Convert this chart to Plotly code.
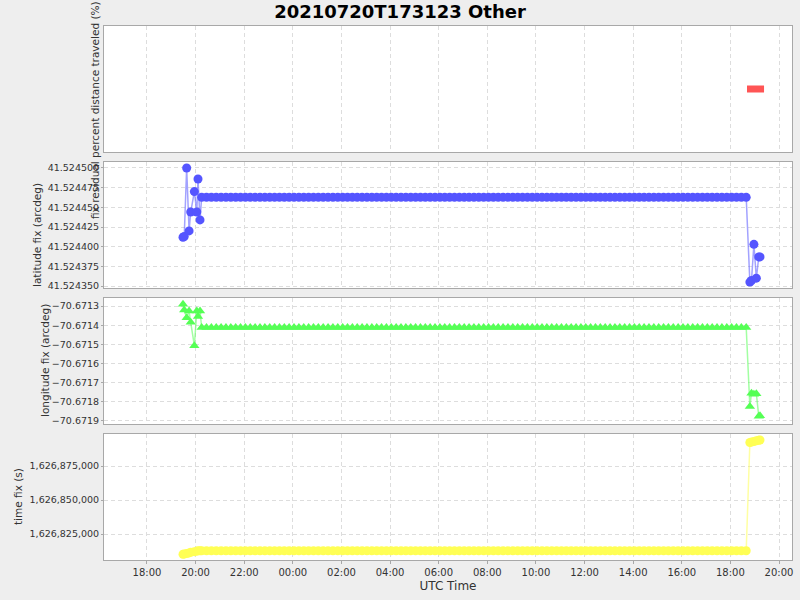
import pandas as pd
import plotly.graph_objects as go

# ---------------- data ----------------
early_times = ["2021-07-20 19:29", "2021-07-20 19:32", "2021-07-20 19:38", "2021-07-20 19:44",
               "2021-07-20 19:48", "2021-07-20 19:57", "2021-07-20 20:03", "2021-07-20 20:06",
               "2021-07-20 20:11"]
early_lat = [41.524412, 41.524413, 41.524500, 41.524420, 41.524444, 41.524470, 41.524444,
             41.524486, 41.524434]
early_lon = [-70.671291, -70.671321, -70.671361, -70.671326, -70.671385, -70.671507,
             -70.671326, -70.671355, -70.671326]
early_tfix = [1626810100, 1626810300, 1626810700, 1626811100, 1626811500, 1626812000,
              1626812400, 1626812600, 1626812700]

steady_times = list(pd.date_range("2021-07-20 20:15", "2021-07-21 18:40", freq="12min"))
steady_lat_value = 41.5244627
steady_lon_value = -70.671412
steady_tfix_value = 1626812720

late_times = ["2021-07-21 18:48", "2021-07-21 18:52", "2021-07-21 18:58", "2021-07-21 19:04",
              "2021-07-21 19:10", "2021-07-21 19:13"]
late_lat = [41.524355, 41.524357, 41.524403, 41.524360, 41.524387, 41.524387]
late_lon = [-70.671824, -70.671755, -70.671760, -70.671758, -70.671876, -70.671873]
late_tfix = [1626892300, 1626892600, 1626893000, 1626893500, 1626893900, 1626894100]

dist_times = ["2021-07-21 18:41", "2021-07-21 19:23"]
dist_values = [0.5, 0.5]

lat_ticks = [41.524350, 41.524375, 41.524400, 41.524425, 41.524450, 41.524475, 41.524500]
lon_ticks = [-70.6719, -70.6718, -70.6717, -70.6716, -70.6715, -70.6714, -70.6713]
tfix_ticks = [1626825000, 1626850000, 1626875000]

title_text = "20210720T173123 Other"
# -------------------------------------------------------------

times = (list(pd.to_datetime(early_times)) + steady_times + list(pd.to_datetime(late_times)))
n_steady = len(steady_times)
lat = early_lat + [steady_lat_value] * n_steady + late_lat
lon = early_lon + [steady_lon_value] * n_steady + late_lon
tfix = early_tfix + [steady_tfix_value] * n_steady + late_tfix

FONT = "DejaVu Sans"
L, R, T, B = 104, 8, 26, 40
W, H = 800, 600
ph = H - T - B


def dom(top_px, bot_px):
    return [(H - B - bot_px) / ph, (H - B - top_px) / ph]


fig = go.Figure()

fig.add_trace(go.Scatter(x=pd.to_datetime(dist_times), y=dist_values, mode="lines",
                         line=dict(color="#ff5555", width=7), xaxis="x2", yaxis="y",
                         showlegend=False))
fig.add_trace(go.Scatter(x=times, y=lat, mode="lines+markers",
                         line=dict(color="rgba(85,85,255,0.55)", width=1.5),
                         marker=dict(color="#5555ff", size=9, symbol="circle"),
                         xaxis="x3", yaxis="y2", showlegend=False))
fig.add_trace(go.Scatter(x=times, y=lon, mode="lines+markers",
                         line=dict(color="rgba(85,255,85,0.55)", width=1.5),
                         marker=dict(color="#55ff55", size=9, symbol="triangle-up"),
                         xaxis="x4", yaxis="y3", showlegend=False))
fig.add_trace(go.Scatter(x=times, y=tfix, mode="lines+markers",
                         line=dict(color="rgba(255,255,85,0.55)", width=1.5),
                         marker=dict(color="#ffff55", size=9, symbol="circle"),
                         xaxis="x", yaxis="y4", showlegend=False))

xrange = ["2021-07-20 16:14", "2021-07-21 20:32"]
grid = dict(showgrid=True, gridcolor="#dddddd", griddash="4px,3px", gridwidth=1)
frame = dict(showline=True, linecolor="#a8a8a8", linewidth=1, mirror=True, zeroline=False)
tickfont = dict(family=FONT, size=9.5, color="#333333")

xcommon = dict(type="date", range=xrange, tick0="2021-07-20 18:00", dtick=7200000,
               tickformat="%H:%M", tickfont=dict(family=FONT, size=10, color="#333333"),
               **grid, **frame)

fig.update_layout(
    width=W, height=H,
    margin=dict(l=L, r=R, t=T, b=B),
    paper_bgcolor="#eeeeee", plot_bgcolor="#ffffff",
    font=dict(family=FONT, size=12, color="#333333"),
    title=dict(text="<b>" + title_text + "</b>", x=0.5, xanchor="center", y=1 - 12 / H,
               yanchor="middle", font=dict(family=FONT, size=18, color="#000000")),
    xaxis=dict(domain=[0, 1], anchor="y4", ticks="outside", ticklen=3, tickcolor="#a8a8a8",
               title=dict(text="UTC Time", font=dict(family=FONT, size=12, color="#333333"),
                          standoff=4),
               **xcommon),
    xaxis2=dict(domain=[0, 1], anchor="y", matches="x", showticklabels=False, **xcommon),
    xaxis3=dict(domain=[0, 1], anchor="y2", matches="x", showticklabels=False, **xcommon),
    xaxis4=dict(domain=[0, 1], anchor="y3", matches="x", showticklabels=False, **xcommon),
    yaxis=dict(domain=dom(26, 152), anchor="x2", range=[0, 1], showticklabels=False,
               showgrid=False, ticks="", **frame),
    yaxis2=dict(domain=dom(162, 288), anchor="x3",
                range=[41.5243475, 41.5245076], tickvals=lat_ticks, tickformat=".6f",
                ticks="outside", ticklen=2, tickcolor="#a8a8a8", tickfont=tickfont,
                **grid, **frame),
    yaxis3=dict(domain=dom(298, 424), anchor="x4",
                range=[-70.671916, -70.671258], tickvals=lon_ticks, tickformat=".4f",
                ticks="outside", ticklen=2, tickcolor="#a8a8a8", tickfont=tickfont,
                **grid, **frame),
    yaxis4=dict(domain=dom(434, 560), anchor="x",
                range=[1626805882, 1626898529], tickvals=tfix_ticks, tickformat=",d",
                ticks="outside", ticklen=2, tickcolor="#a8a8a8", tickfont=tickfont,
                **grid, **frame),
)


def px_to_paper_x(px):
    return (px - L) / (W - L - R)


def px_to_paper_y(py):
    return (H - B - py) / ph


ytitles = [
    ("fix residual percent distance traveled (%)", 95, 110),
    ("latitude fix (arcdeg)", 37, 235),
    ("longitude fix (arcdeg)", 45, 361),
    ("time fix (s)", 18, 497),
]
for text, xpx, ypx in ytitles:
    fig.add_annotation(text=text, x=px_to_paper_x(xpx), y=px_to_paper_y(ypx),
                       xref="paper", yref="paper", textangle=-90, showarrow=False,
                       xanchor="center", yanchor="middle",
                       font=dict(family=FONT, size=10.5, color="#333333"))

fig.write_html("out.html", config={"displayModeBar": False},
               post_script="document.body.style.margin='0';document.body.style.padding='0';")
